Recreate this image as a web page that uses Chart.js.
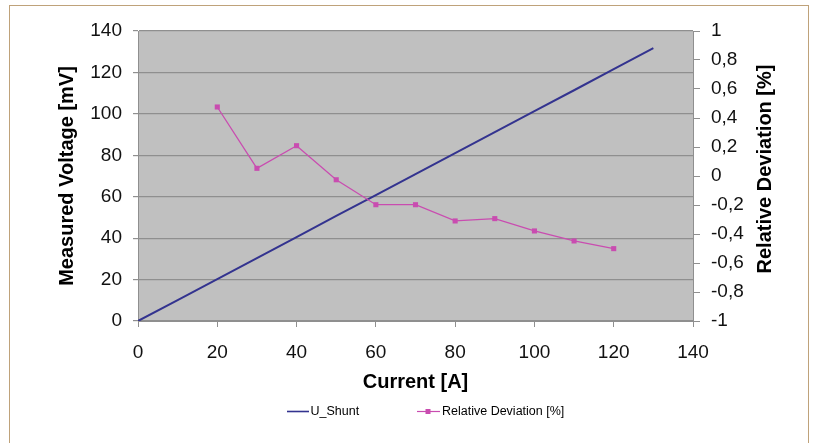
<!DOCTYPE html>
<html>
<head>
<meta charset="utf-8">
<script src="https://cdn.jsdelivr.net/npm/chart.js@4/dist/chart.umd.min.js"></script>
<style>
  html, body { margin: 0; padding: 0; background: #ffffff; width: 819px; height: 443px; overflow: hidden; }
  #frame { position: absolute; left: 9px; top: 5px; width: 800px; height: 460px; border: 1.5px solid #bfa27a; box-sizing: border-box; }
  #wrap { position: absolute; left: 0; top: 0; width: 819px; height: 443px; }
</style>
</head>
<body>
<div id="frame"></div>
<div id="wrap"><canvas id="c" width="819" height="443"></canvas></div>
<script>
// ---- data ----
const currents = [0, 10, 20, 30, 40, 50, 60, 70, 80, 90, 100, 110, 120, 130];
const uShunt = [0, 10.1, 20.2, 30.4, 40.5, 50.7, 60.8, 70.9, 81.0, 91.2, 101.3, 111.4, 121.6, 131.7];
const devCurrents = [20, 30, 40, 50, 60, 70, 80, 90, 100, 110, 120];
const deviation = [0.476, 0.053, 0.209, -0.026, -0.198, -0.198, -0.31, -0.294, -0.379, -0.448, -0.501];
const xTicks = [0, 20, 40, 60, 80, 100, 120, 140];
const yLeftTicks = [0, 20, 40, 60, 80, 100, 120, 140];
const yRightTicks = [-1, -0.8, -0.6, -0.4, -0.2, 0, 0.2, 0.4, 0.6, 0.8, 1];
const seriesNames = ['U_Shunt', 'Relative Deviation [%]'];

const FONT = "'Liberation Sans', Arial, sans-serif";
const blue = '#33338f';
const pink = '#c94cb0';
const gridCol = '#8f8f8f';

const plotBg = {
  id: 'plotBg',
  beforeDraw(chart) {
    const {ctx, chartArea: a} = chart;
    ctx.save();
    ctx.fillStyle = '#c0c0c0';
    ctx.fillRect(a.left, a.top, a.right - a.left, a.bottom - a.top);
    ctx.restore();
  }
};

const extras = {
  id: 'extras',
  afterDraw(chart) {
    const {ctx} = chart;
    ctx.save();
    // right axis title, reading bottom-to-top
    ctx.font = 'bold 20px ' + FONT;
    ctx.fillStyle = '#000';
    ctx.textAlign = 'center';
    ctx.textBaseline = 'alphabetic';
    ctx.translate(771, 169);
    ctx.rotate(-Math.PI / 2);
    ctx.fillText('Relative Deviation [%]', 0, 0);
    ctx.restore();

    // legend
    ctx.save();
    const ly = 411.5;
    ctx.font = '12.5px ' + FONT;
    ctx.textBaseline = 'middle';
    ctx.textAlign = 'left';
    ctx.lineWidth = 1.6;
    ctx.strokeStyle = blue;
    ctx.beginPath(); ctx.moveTo(287, ly); ctx.lineTo(309, ly); ctx.stroke();
    ctx.fillStyle = '#000';
    ctx.fillText(seriesNames[0], 310.5, ly);
    ctx.strokeStyle = pink;
    ctx.lineWidth = 1.2;
    ctx.beginPath(); ctx.moveTo(417, ly); ctx.lineTo(440, ly); ctx.stroke();
    ctx.fillStyle = pink;
    ctx.fillRect(425.5, ly - 2.5, 5, 5);
    ctx.fillStyle = '#000';
    ctx.fillText(seriesNames[1], 442, ly);
    ctx.restore();
  }
};

new Chart(document.getElementById('c'), {
  type: 'line',
  data: {
    datasets: [
      {
        label: seriesNames[0],
        data: currents.map((x, i) => ({x, y: uShunt[i]})),
        borderColor: blue,
        backgroundColor: blue,
        borderWidth: 2,
        pointRadius: 0,
        yAxisID: 'y',
        order: 2
      },
      {
        label: seriesNames[1],
        data: devCurrents.map((x, i) => ({x, y: deviation[i]})),
        borderColor: pink,
        backgroundColor: pink,
        borderWidth: 1.3,
        pointStyle: 'rect',
        pointRadius: 3.6,
        pointBorderWidth: 0,
        yAxisID: 'y2',
        order: 1
      }
    ]
  },
  options: {
    responsive: false,
    animation: false,
    events: [],
    layout: { padding: { top: 31, left: 0, right: 0, bottom: 0 } },
    plugins: { legend: { display: false }, tooltip: { enabled: false } },
    scales: {
      x: {
        type: 'linear',
        min: 0, max: 140,
        afterBuildTicks: s => { s.ticks = xTicks.map(v => ({value: v})); },
        afterFit: s => { s.height = 443 - 321; },
        grid: { display: true, drawOnChartArea: false, drawTicks: true, tickLength: 6, color: gridCol },
        border: { display: true, color: gridCol, width: 1 },
        ticks: { color: '#111', font: { family: FONT, size: 19 }, padding: 14, maxRotation: 0 },
        title: { display: true, text: 'Current [A]', color: '#000', font: { family: FONT, size: 20, weight: 'bold' }, padding: { top: 0, bottom: 49 } }
      },
      y: {
        type: 'linear',
        position: 'left',
        min: 0, max: 140,
        afterBuildTicks: s => { s.ticks = yLeftTicks.map(v => ({value: v})); },
        afterFit: s => { s.width = 138; },
        grid: { display: true, drawOnChartArea: true, drawTicks: true, tickLength: 5, color: gridCol, lineWidth: 1.2 },
        border: { display: true, color: gridCol, width: 1 },
        ticks: { color: '#111', font: { family: FONT, size: 19 }, padding: 11 },
        title: { display: true, text: 'Measured Voltage [mV]', color: '#000', font: { family: FONT, size: 20, weight: 'bold' }, padding: { top: 55, bottom: 0 } }
      },
      y2: {
        type: 'linear',
        position: 'right',
        min: -1, max: 1,
        afterBuildTicks: s => { s.ticks = yRightTicks.map(v => ({value: v})); },
        afterFit: s => { s.width = 819 - 693; },
        grid: { display: true, drawOnChartArea: false, drawTicks: true, tickLength: 7, color: gridCol },
        border: { display: true, color: gridCol, width: 1 },
        ticks: {
          color: '#111', font: { family: FONT, size: 19 }, padding: 11,
          callback: v => String(Math.round(v * 10) / 10).replace('.', ',')
        },
        title: { display: false }
      }
    }
  },
  plugins: [plotBg, extras]
});
</script>
</body>
</html>
